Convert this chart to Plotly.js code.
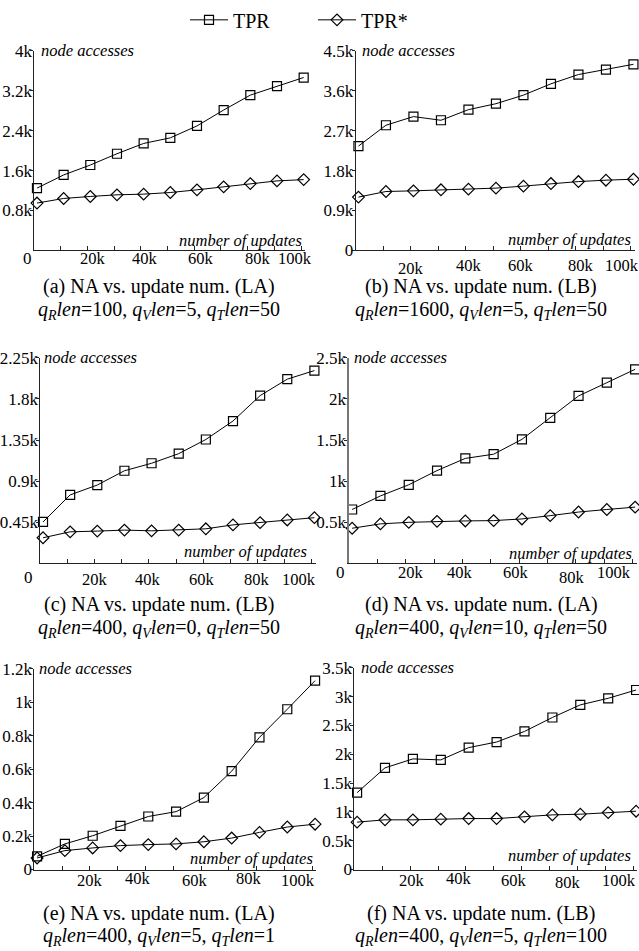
<!DOCTYPE html>
<html><head><meta charset="utf-8">
<script src="https://cdn.plot.ly/plotly-3.0.1.min.js"></script>
<style>html,body{margin:0;padding:0;background:#fff}#chart{width:639px;height:951px}</style>
</head><body><div id="chart"></div>
<script>
// ---- data ----
const updates = [1000, 11000, 21000, 31000, 41000, 51000, 61000, 71000, 81000, 91000, 101000];
const xTickVals = [0, 10000, 20000, 30000, 40000, 50000, 60000, 70000, 80000, 90000, 100000];
const xLabelVals = [20000, 40000, 60000, 80000, 100000];
const xLabelText = ['20k', '40k', '60k', '80k', '100k'];

const tprA  = [1248, 1512, 1711, 1937, 2143, 2255, 2494, 2812, 3111, 3290, 3463];
const tprsA = [949, 1041, 1081, 1114, 1128, 1160, 1214, 1274, 1339, 1393, 1419];
const tprB  = [2351, 2821, 3016, 2933, 3172, 3306, 3500, 3754, 3963, 4075, 4194];
const tprsB = [1202, 1328, 1343, 1366, 1381, 1404, 1449, 1507, 1552, 1583, 1605];
const tprC  = [454, 750, 858, 1014, 1096, 1201, 1356, 1558, 1836, 2016, 2110];
const tprsC = [281, 346, 354, 365, 357, 365, 379, 422, 447, 476, 501];
const tprD  = [656, 821, 956, 1129, 1277, 1328, 1508, 1769, 2036, 2197, 2360];
const tprsD = [428, 481, 500, 512, 517, 521, 541, 581, 625, 656, 685];
const tprE  = [79, 153, 202, 261, 317, 346, 430, 588, 790, 958, 1129];
const tprsE = [69, 113, 129, 143, 149, 153, 166, 188, 222, 254, 271];
const tprF  = [1333, 1764, 1919, 1902, 2115, 2212, 2396, 2638, 2857, 2971, 3115];
const tprsF = [822, 862, 862, 874, 884, 884, 914, 948, 960, 988, 1012];

const yTicksA = [800, 1600, 2400, 3200, 4000];
const yTextA = ['0.8k', '1.6k', '2.4k', '3.2k', '4k'];
const yTicksB = [0, 900, 1800, 2700, 3600, 4500];
const yTextB = ['0', '0.9k', '1.8k', '2.7k', '3.6k', '4.5k'];
const yTicksC = [450, 900, 1350, 1800, 2250];
const yTextC = ['0.45k', '0.9k', '1.35k', '1.8k', '2.25k'];
const yTicksD = [500, 1000, 1500, 2000, 2500];
const yTextD = ['0.5k', '1k', '1.5k', '2k', '2.5k'];
const yTicksE = [0, 200, 400, 600, 800, 1000, 1200];
const yTextE = ['0', '0.2k', '0.4k', '0.6k', '0.8k', '1k', '1.2k'];
const yTicksF = [0, 500, 1000, 1500, 2000, 2500, 3000, 3500];
const yTextF = ['0', '0.5k', '1k', '1.5k', '2k', '2.5k', '3k', '3.5k'];

const captions1 = ['(a) NA vs. update num. (LA)', '(b) NA vs. update num. (LB)', '(c) NA vs. update num. (LB)',
                   '(d) NA vs. update num. (LA)', '(e) NA vs. update num. (LA)', '(f) NA vs. update num. (LB)'];
const qR = ['100', '1600', '400', '400', '400', '400'];
const qV = ['5', '5', '0', '10', '5', '5'];
const qT = ['50', '50', '50', '50', '1', '100'];

// ---- layout geometry (pixels) ----
const W = 639, H = 951;
const FONT = '"Liberation Serif", "Times New Roman", serif';
const XMAX = 101500;
// lx: x shifts (px) of the 20k..100k labels; ly: label centre y (px)
const panels = [
  {tpr: tprA, tprs: tprsA, x0: 34.3, x100: 301, yb: 246, yt: 45, ymax: 4000, yv: yTicksA, ytx: yTextA, ax: '#222', aw: 1,
   zero: [27, 254], nodeX: 39, numX: 304, numY: 236, cap: [282, 306], cx: 159,
   lx: [5, 4, 7, 10, -6], ly: [254, 254, 254, 254, 254]},
  {tpr: tprB, tprs: tprsB, x0: 355.7, x100: 630.7, yb: 246, yt: 45, ymax: 4500, yv: yTicksB, ytx: yTextB, ax: '#222', aw: 1,
   zero: null, nodeX: 360, numX: 633, numY: 235, cap: [282, 306], cx: 481,
   lx: [0, 3, 0, 5, -9], ly: [264, 261, 261.5, 261.5, 261.5]},
  {tpr: tprC, tprs: tprsC, x0: 40.3, x100: 311.7, yb: 561, yt: 354, ymax: 2250, yv: yTicksC, ytx: yTextC, ax: '#222', aw: 1,
   zero: [28.3, 575], nodeX: 42, numX: 309, numY: 549, cap: [602, 626], cx: 159,
   lx: [0, -1, -1, 0, -13], ly: [577, 577, 577, 577, 577]},
  {tpr: tprD, tprs: tprsD, x0: 349.3, x100: 632.3, yb: 561, yt: 354, ymax: 2500, yv: yTicksD, ytx: yTextD, ax: '#777', aw: 2,
   zero: [340, 570], nodeX: 352, numX: 634, numY: 551, cap: [602, 626], cx: 481,
   lx: [5, -2, -3, -4, -18], ly: [570, 570, 570, 575, 570]},
  {tpr: tprE, tprs: tprsE, x0: 34.3, x100: 312.3, yb: 869, yt: 667, ymax: 1200, yv: yTicksE, ytx: yTextE, ax: '#222', aw: 1,
   zero: null, nodeX: 37, numX: 315, numY: 858, cap: [913, 936], cx: 159,
   lx: [0, -8, -6.5, -7.7, -14], ly: [880, 877.7, 880, 877.7, 880]},
  {tpr: tprF, tprs: tprsF, x0: 354.3, x100: 633.3, yb: 869, yt: 666, ymax: 3500, yv: yTicksF, ytx: yTextF, ax: '#222', aw: 1,
   zero: null, nodeX: 359, numX: 633, numY: 855, cap: [913, 936], cx: 481,
   lx: [2, -6.7, -7.3, -9.7, -14], ly: [880, 877.7, 880, 882.3, 880]}
];

const data = [];
const layout = {
  width: W, height: H, margin: {l: 0, r: 0, t: 0, b: 0},
  paper_bgcolor: '#fff', plot_bgcolor: 'rgba(0,0,0,0)',
  font: {family: FONT, size: 16, color: '#000'},
  showlegend: true,
  legend: {orientation: 'h', x: 185 / W, xanchor: 'left', y: 1.006, yanchor: 'top',
           font: {family: FONT, size: 20, color: '#000'}, itemwidth: 38, entrywidth: 75, entrywidthmode: 'pixels',
           bgcolor: 'rgba(0,0,0,0)'},
  annotations: []
};

panels.forEach((p, i) => {
  const n = i + 1;
  const suf = n === 1 ? '' : String(n);
  const xa = 'xaxis' + suf, ya = 'yaxis' + suf, xr = 'x' + suf, yr = 'y' + suf;
  const x1 = p.x0 + (p.x100 - p.x0) * XMAX / 100000;
  data.push({x: updates, y: p.tpr, xaxis: xr, yaxis: yr, type: 'scatter', mode: 'lines+markers', name: 'TPR',
    showlegend: i === 0, cliponaxis: false,
    line: {color: '#000', width: 1}, marker: {symbol: 'square-open', size: 9, color: '#000', line: {width: 1.2}}});
  data.push({x: updates, y: p.tprs, xaxis: xr, yaxis: yr, type: 'scatter', mode: 'lines+markers', name: 'TPR*',
    showlegend: i === 0, cliponaxis: false,
    line: {color: '#000', width: 1}, marker: {symbol: 'diamond-open', size: 9, color: '#000', line: {width: 1.2}}});
  layout[xa] = {domain: [p.x0 / W, x1 / W], range: [0, XMAX], anchor: yr,
    showline: true, linecolor: '#222', linewidth: 1, showgrid: false, zeroline: false,
    tickmode: 'array', tickvals: xTickVals, showticklabels: false, ticks: 'inside', ticklen: 4, tickcolor: '#222',
    fixedrange: true};
  layout[ya] = {domain: [(H - p.yb) / H, (H - p.yt) / H], range: [0, p.ymax], anchor: xr,
    showline: true, linecolor: p.ax, linewidth: p.aw, showgrid: false, zeroline: false,
    tickmode: 'array', tickvals: p.yv, ticktext: p.ytx, ticks: 'outside', ticklen: 3, tickcolor: '#222',
    ticklabelstandoff: -5, ticklabeloverflow: 'allow',
    tickfont: {family: FONT, size: 17, color: '#000'}, fixedrange: true};
  // x tick labels
  xLabelVals.forEach((v, k) => {
    layout.annotations.push({xref: xr, yref: 'paper', x: v, y: (H - p.ly[k]) / H, xanchor: 'center', yanchor: 'middle',
      xshift: p.lx[k], text: xLabelText[k], showarrow: false, font: {family: FONT, size: 16.5, color: '#000'}});
  });
  layout.annotations.push({xref: 'paper', yref: 'paper', x: p.nodeX / W, y: (H - p.yt) / H, xanchor: 'left', yanchor: 'middle',
    text: '<i>node accesses</i>', showarrow: false, font: {family: FONT, size: 16.5, color: '#000'}});
  layout.annotations.push({xref: 'paper', yref: 'paper', x: p.numX / W, y: (H - p.numY) / H, xanchor: 'right', yanchor: 'middle',
    text: '<i>number of updates</i>', showarrow: false, font: {family: FONT, size: 16.5, color: '#000'}});
  if (p.zero) {
    layout.annotations.push({xref: 'paper', yref: 'paper', x: p.zero[0] / W, y: (H - p.zero[1]) / H, xanchor: 'center', yanchor: 'middle',
      text: '0', showarrow: false, font: {family: FONT, size: 17, color: '#000'}});
  }
  layout.annotations.push({xref: 'paper', yref: 'paper', x: p.cx / W, y: (H - p.cap[0]) / H, xanchor: 'center', yanchor: 'middle',
    text: captions1[i], showarrow: false, font: {family: FONT, size: 20, color: '#000'}});
  layout.annotations.push({xref: 'paper', yref: 'paper', x: p.cx / W, y: (H - p.cap[1]) / H, xanchor: 'center', yanchor: 'middle',
    text: '<i>q<sub>R</sub>len</i>=' + qR[i] + ', <i>q<sub>V</sub>len</i>=' + qV[i] + ', <i>q<sub>T</sub>len</i>=' + qT[i],
    showarrow: false, font: {family: FONT, size: 20, color: '#000'}});
});

Plotly.newPlot('chart', data, layout, {staticPlot: true, displayModeBar: false});
</script></body></html>
